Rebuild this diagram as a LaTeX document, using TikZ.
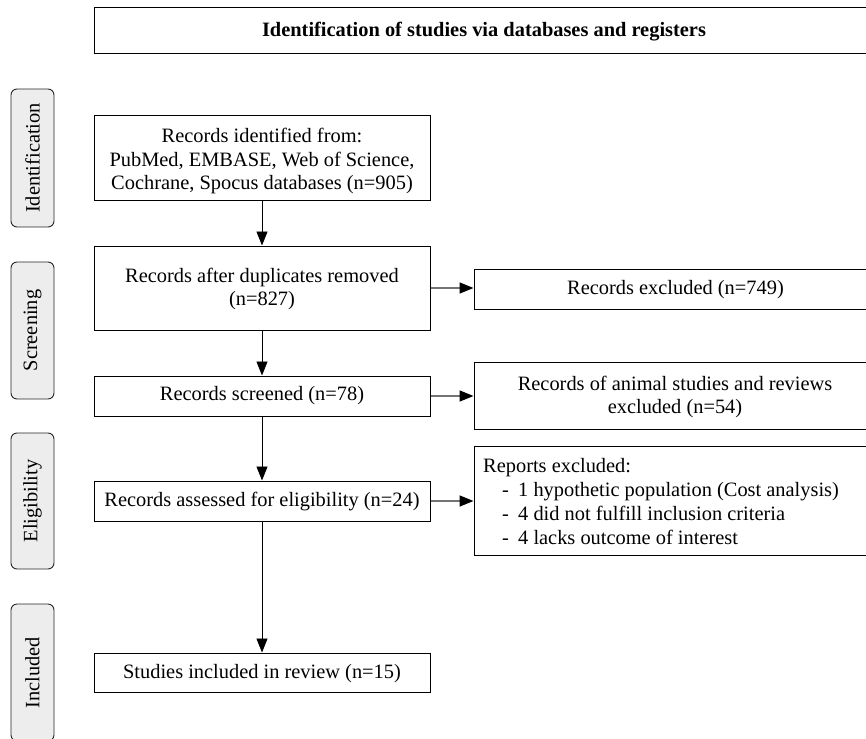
\documentclass[tikz,border=0pt]{standalone}
\usepackage{fontspec}
\setmainfont{Liberation Serif}
\usetikzlibrary{arrows.meta}
\begin{document}
\begin{tikzpicture}[x=1pt,y=-1pt,
  box/.style={draw=black, line width=1pt, inner sep=0pt},
  txt/.style={font=\fontsize{20.4}{23.5}\selectfont, align=center, inner sep=0pt},
  txtb/.style={font=\bfseries\fontsize{20.4}{23.5}\selectfont, align=center, inner sep=0pt},
  txtl/.style={font=\fontsize{20.4}{24}\selectfont, align=left, inner sep=0pt},
  side/.style={draw=black!85, line width=0.9pt, rounded corners=6pt, fill=black!7, rotate=90, inner sep=0pt, minimum height=43pt, font=\fontsize{20.4}{23.5}\selectfont},
  varr/.style={-{Triangle[length=14pt,width=11pt,black]}, line width=0.9pt, black},
  harr/.style={-{Triangle[length=14pt,width=11pt,black]}, line width=1.5pt, black!55}]
\useasboundingbox (0,0) rectangle (866,738);
\clip (0,0) rectangle (866,738);

% top banner
\node[box, minimum width=782pt, minimum height=46pt] (top) at (485,31) {};
\node[txtb] (toptxt) at (484,32) {Identification of studies via databases and registers};

% side labels
\node[side, minimum width=138pt] (s1) at (32.5,158) {Identification};
\node[side, minimum width=137pt] (s2) at (32.5,330.5) {Screening};
\node[side, minimum width=136pt] (s3) at (32.5,501) {Eligibility};
\node[side, minimum width=137pt] (s4) at (32.5,672.5) {Included};

% main column boxes
\node[box, minimum width=336pt, minimum height=84pt] (b1) at (262,158) {};
\node[box, minimum width=336pt, minimum height=84pt] (b2) at (262,288) {};
\node[box, minimum width=336pt, minimum height=40pt] (b3) at (262,396) {};
\node[box, minimum width=336pt, minimum height=40pt] (b4) at (262,501) {};
\node[box, minimum width=336pt, minimum height=39pt] (b5) at (262,672.5) {};

\node[txt] (t1) at (262,161) {Records identified from:\\PubMed, EMBASE, Web of Science,\\Cochrane, Spocus databases (n=905)};
\node[txt] (t2) at (262,289) {Records after duplicates removed\\(n=827)};
\node[txt] (t3) at (262,396) {Records screened (n=78)};
\node[txt] (t4) at (262,502) {Records assessed for eligibility (n=24)};
\node[txt] (t5) at (262,673.5) {Studies included in review (n=15)};

% right column boxes
\node[box, minimum width=402pt, minimum height=40pt] (e1) at (675,289) {};
\node[box, minimum width=402pt, minimum height=67pt] (e2) at (675,395.5) {};
\node[box, minimum width=402pt, minimum height=109pt] (e3) at (675,500.5) {};

\node[txt] (u1) at (675.5,290) {Records excluded (n=749)};
\node[txt] (u2) at (675,397) {Records of animal studies and reviews\\excluded (n=54)};
\node[txtl, anchor=west] (u3) at (483,502) {Reports excluded:\\
\hspace*{19pt}\makebox[16pt][l]{-}1 hypothetic population (Cost analysis)\\
\hspace*{19pt}\makebox[16pt][l]{-}4 did not fulfill inclusion criteria\\
\hspace*{19pt}\makebox[16pt][l]{-}4 lacks outcome of interest};

% connectors
\draw[varr] (b1.south) -- (b2.north);
\draw[varr] (b2.south) -- (b3.north);
\draw[varr] (b3.south) -- (b4.north);
\draw[varr] (b4.south) -- (b5.north);
\draw[harr] (b2.east) -- (b2.east -| e1.west);
\draw[harr] (b3.east) -- (b3.east -| e2.west);
\draw[harr] (b4.east) -- (b4.east -| e3.west);
\end{tikzpicture}
\end{document}
